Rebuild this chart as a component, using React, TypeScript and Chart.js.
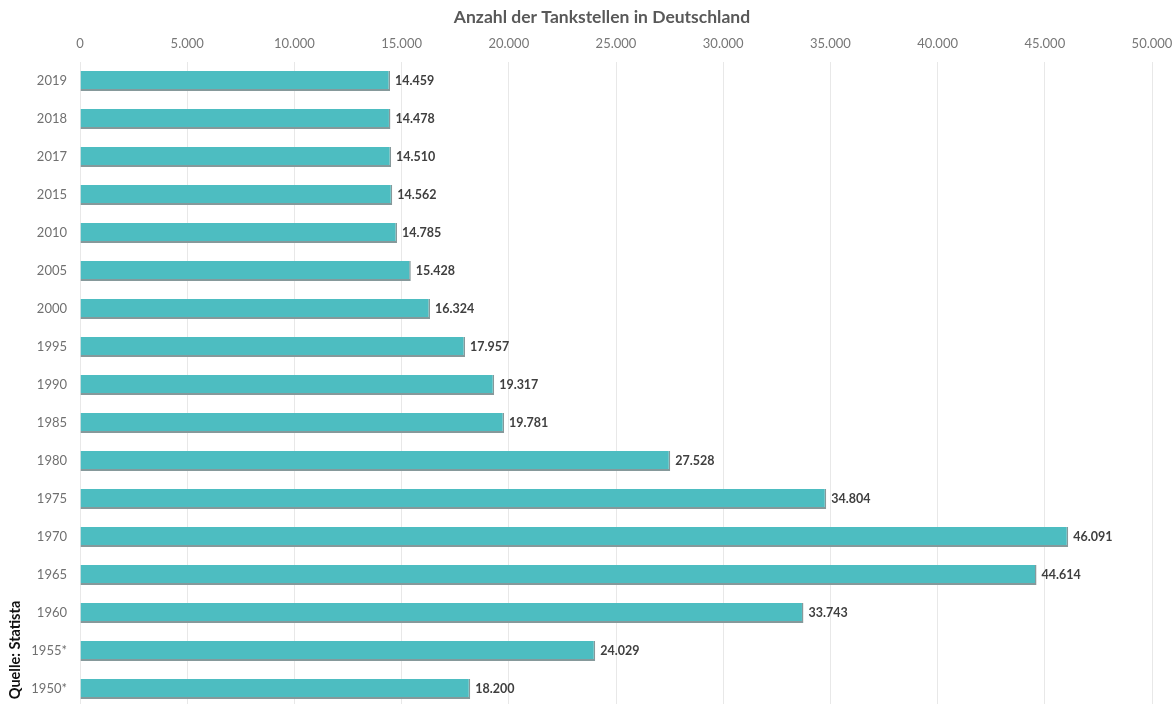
import React, { useEffect, useRef } from "react";
import { Chart, registerables } from "chart.js";

Chart.register(...registerables);

const categories = ["2019", "2018", "2017", "2015", "2010", "2005", "2000", "1995", "1990", "1985", "1980", "1975", "1970", "1965", "1960", "1955*", "1950*"];
const stations = [14459, 14478, 14510, 14562, 14785, 15428, 16324, 17957, 19317, 19781, 27528, 34804, 46091, 44614, 33743, 24029, 18200];
const xTicks = [0, 5000, 10000, 15000, 20000, 25000, 30000, 35000, 40000, 45000, 50000];
const titleText = "Anzahl der Tankstellen in Deutschland";
const sourceText = "Quelle: Statista";

const FONT = "Lato, 'Open Sans', sans-serif";

function fmt(n: number): string {
  const s = Math.round(n).toString();
  return s.replace(/\B(?=(\d{3})+(?!\d))/g, ".");
}

const labelPlugin = {
  id: "valueLabels",
  afterDatasetsDraw(chart: any) {
    const ctx = chart.ctx;
    const meta = chart.getDatasetMeta(0);
    ctx.save();
    ctx.font = `bold 12.5px ${FONT}`;
    ctx.fillStyle = "#3f3f3f";
    ctx.textAlign = "left";
    ctx.textBaseline = "middle";
    meta.data.forEach((el: any, i: number) => {
      ctx.fillText(fmt(stations[i]), el.x + 5, el.y);
    });
    ctx.restore();
  },
  afterDraw(chart: any) {
    const ctx = chart.ctx;
    ctx.save();
    ctx.font = `bold 17.5px ${FONT}`;
    ctx.fillStyle = "#595959";
    ctx.textAlign = "center";
    ctx.textBaseline = "middle";
    ctx.fillText(titleText, 602, 17);
    ctx.translate(15, 650);
    ctx.rotate(-Math.PI / 2);
    ctx.font = `bold 14.5px ${FONT}`;
    ctx.fillStyle = "#111111";
    ctx.textAlign = "center";
    ctx.fillText(sourceText, 0, 0);
    ctx.restore();
  },
};

export default function App() {
  const ref = useRef<HTMLCanvasElement>(null);
  useEffect(() => {
    if (!ref.current) return;
    const chart = new Chart(ref.current, {
      type: "bar",
      data: {
        labels: categories,
        datasets: [
          {
            data: stations,
            backgroundColor: "#4dbdc1",
            borderColor: "#86999b",
            borderWidth: { top: 0, left: 0, right: 1.5, bottom: 2 } as any,
            borderSkipped: false,
            categoryPercentage: 1,
            barPercentage: 0.53,
          },
        ],
      },
      options: {
        indexAxis: "y",
        animation: false,
        responsive: false,
        maintainAspectRatio: false,
        layout: { padding: { left: 0, right: 21, top: 0, bottom: 0 } },
        plugins: {
          legend: { display: false },
          tooltip: { enabled: false },
          title: { display: false },
        },
        scales: {
          x: {
            position: "top",
            min: 0,
            max: 50000,
            afterBuildTicks(scale: any) {
              scale.ticks = xTicks.map((v) => ({ value: v }));
            },
            afterFit(scale: any) {
              scale.height = 62;
              scale.paddingLeft = 0;
              scale.paddingRight = 0;
            },
            ticks: {
              padding: 10,
              color: "#777777",
              font: { family: FONT, size: 13 },
              callback: (v: any) => fmt(Number(v)),
              maxRotation: 0,
            },
            grid: { color: "#e8e8e8", drawTicks: false, lineWidth: 1 },
            border: { display: false },
          },
          y: {
            afterFit(scale: any) {
              scale.width = 80;
              scale.paddingTop = 0;
              scale.paddingBottom = 0;
            },
            ticks: {
              padding: 13,
              color: "#707070",
              font: { family: FONT, size: 13 },
            },
            grid: { display: false, drawTicks: false },
            border: { display: false },
          },
        },
      },
      plugins: [labelPlugin],
    });
    return () => chart.destroy();
  }, []);
  return (
    <div style={{ position: "fixed", left: 0, top: 0, width: 1173, height: 704, overflow: "hidden", background: "#fff" }}>
      <canvas ref={ref} width={1173} height={708} style={{ display: "block", width: 1173, height: 708 }} />
    </div>
  );
}
